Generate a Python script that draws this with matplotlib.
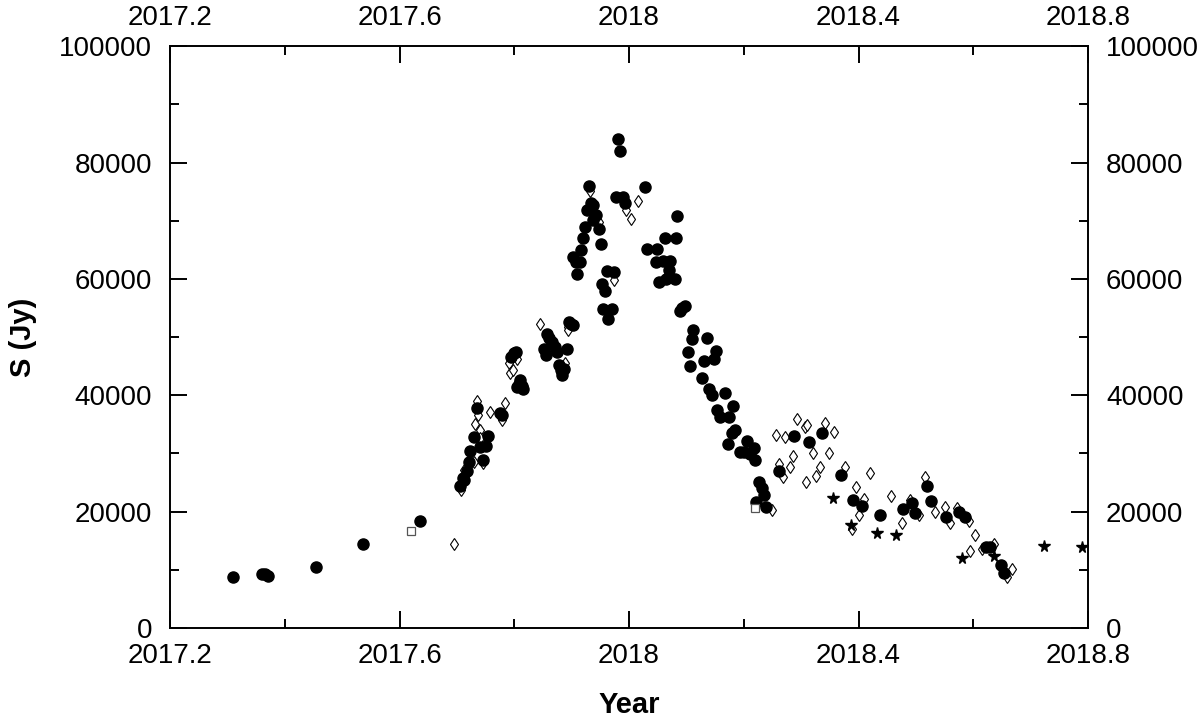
import numpy as np
import matplotlib
matplotlib.use('Agg')
import matplotlib.pyplot as plt
from matplotlib.ticker import MultipleLocator

plt.rcParams['font.family'] = ['Liberation Sans', 'DejaVu Sans']

# filled circles
circ_x = [2017.310, 2017.360, 2017.365, 2017.370, 2017.454, 2017.537, 2017.636,
          2017.705, 2017.710, 2017.712, 2017.718, 2017.721, 2017.723, 2017.730,
          2017.735, 2017.741, 2017.745, 2017.751, 2017.755, 2017.775, 2017.779,
          2017.795, 2017.800, 2017.803, 2017.805, 2017.809, 2017.810, 2017.813,
          2017.816, 2017.852, 2017.855, 2017.857, 2017.861, 2017.865, 2017.871,
          2017.874, 2017.878, 2017.881, 2017.884, 2017.887, 2017.892, 2017.896,
          2017.898, 2017.902, 2017.903, 2017.908, 2017.910, 2017.915, 2017.917,
          2017.920, 2017.923, 2017.926, 2017.931, 2017.933, 2017.938, 2017.938,
          2017.942, 2017.948, 2017.951, 2017.952, 2017.955, 2017.958, 2017.961,
          2017.964, 2017.970, 2017.973, 2017.977, 2017.981, 2017.984, 2017.990,
          2017.993, 2018.028, 2018.032, 2018.047, 2018.049, 2018.053, 2018.060,
          2018.063, 2018.065, 2018.069, 2018.071, 2018.080, 2018.082, 2018.084,
          2018.088, 2018.092, 2018.098, 2018.103, 2018.106, 2018.109, 2018.112,
          2018.128, 2018.131, 2018.136, 2018.140, 2018.144, 2018.148, 2018.152,
          2018.153, 2018.159, 2018.167, 2018.173, 2018.175, 2018.179, 2018.182,
          2018.185, 2018.193, 2018.200, 2018.205, 2018.211, 2018.217, 2018.220,
          2018.221, 2018.227, 2018.231, 2018.235, 2018.239, 2018.262, 2018.288,
          2018.314, 2018.336, 2018.369, 2018.391, 2018.406, 2018.437, 2018.478,
          2018.493, 2018.498, 2018.519, 2018.526, 2018.553, 2018.575, 2018.586,
          2018.623, 2018.629, 2018.648, 2018.654]
circ_y = [8700, 9300, 9200, 8900, 10400, 14400, 18400,
          24400, 25800, 25400, 27000, 28500, 30400, 32900,
          37800, 31100, 28900, 31200, 33000, 36900, 36600,
          46500, 47200, 47500, 41400, 42000, 42600, 41600,
          41000, 47900, 46900, 50600, 49900, 49200, 48300,
          47500, 45200, 44300, 43500, 44600, 48000, 52600,
          52300, 52000, 63800, 62900, 60900, 62900, 64900,
          67000, 69000, 71900, 76000, 73100, 72700, 70100,
          71000, 68500, 66000, 59100, 54900, 58000, 61400,
          53100, 54900, 61200, 74000, 84000, 82000, 74000,
          73000, 75800, 65100, 62900, 65100, 59500, 63100,
          67000, 60000, 61600, 63100, 60000, 67000, 70800,
          54500, 55000, 55300, 47400, 45000, 49700, 51200,
          42900, 45900, 49900, 41000, 40000, 46200, 47600,
          37500, 36200, 40400, 31700, 36300, 33600, 38100,
          34000, 30300, 30300, 32100, 29900, 30900, 28800,
          21700, 25100, 24000, 22900, 20800, 27000, 33000,
          31900, 33500, 26300, 22000, 21000, 19400, 20400,
          21400, 19800, 24400, 21800, 19000, 20000, 19000,
          13900, 13900, 10800, 9400]

# open diamonds
diam_x = [2017.695, 2017.707, 2017.712, 2017.729, 2017.732, 2017.735, 2017.737,
          2017.740, 2017.741, 2017.745, 2017.758, 2017.778, 2017.784, 2017.790,
          2017.793, 2017.797, 2017.805, 2017.845, 2017.888, 2017.894, 2017.894,
          2017.932, 2017.947, 2017.973, 2017.995, 2018.003, 2018.016, 2018.249,
          2018.256, 2018.262, 2018.268, 2018.272, 2018.281, 2018.286, 2018.292,
          2018.307, 2018.308, 2018.311, 2018.320, 2018.326, 2018.333, 2018.342,
          2018.349, 2018.358, 2018.377, 2018.388, 2018.396, 2018.401, 2018.410,
          2018.420, 2018.456, 2018.475, 2018.489, 2018.505, 2018.516, 2018.533,
          2018.550, 2018.559, 2018.571, 2018.593, 2018.595, 2018.603, 2018.616,
          2018.636, 2018.658, 2018.667]
diam_y = [14400, 23800, 27100, 28600, 35000, 39100, 36600,
          34100, 32600, 28400, 37100, 35700, 38600, 45500,
          43800, 44300, 46200, 52200, 45500, 51700, 51200,
          75100, 69800, 59800, 71900, 70300, 73400, 20200,
          33100, 28200, 26000, 32900, 27700, 29600, 36000,
          34600, 25100, 34900, 30100, 26100, 27700, 35300,
          30000, 33700, 27700, 17100, 24200, 19500, 22100,
          26600, 22700, 18100, 22000, 19500, 26000, 19900,
          20800, 18100, 20700, 18400, 13300, 16000, 13500,
          14400, 8700, 10100]

# open squares
sq_x = [2017.620, 2018.220]
sq_y = [16700, 20600]

# stars
star_x = [2018.356, 2018.386, 2018.432, 2018.465, 2018.580, 2018.636, 2018.723, 2018.789]
star_y = [22300, 17700, 16300, 16000, 12000, 12300, 14100, 13900]

xticks = [2017.2, 2017.6, 2018.0, 2018.4, 2018.8]
xtick_labels = ['2017.2', '2017.6', '2018', '2018.4', '2018.8']
yticks = [0, 20000, 40000, 60000, 80000, 100000]

fig = plt.figure(figsize=(12, 7.2), dpi=100)
ax = fig.add_axes([0.1417, 0.1278, 0.765, 0.808])

ax.plot(diam_x, diam_y, 'd', ms=6.5, mfc='white', mec='black', mew=0.8, ls='none')
ax.plot(circ_x, circ_y, 'o', ms=8, color='black', ls='none')
ax.plot(sq_x, sq_y, 's', ms=5.5, mfc='white', mec='#555555', mew=0.9, ls='none')
ax.plot(star_x, star_y, '*', ms=8.5, color='black', ls='none')

ax.set_xlim(2017.2, 2018.8)
ax.set_ylim(0, 100000)
ax.set_xticks(xticks)
ax.set_xticklabels(xtick_labels)
ax.set_yticks(yticks)
ax.xaxis.set_minor_locator(MultipleLocator(0.2))
ax.yaxis.set_minor_locator(MultipleLocator(10000))

ax.tick_params(which='both', direction='in', top=True, right=True,
               labeltop=True, labelright=True, labelsize=20, width=1.4)
ax.tick_params(which='major', length=12, pad=11)
ax.tick_params(axis='y', which='major', pad=13)
ax.tick_params(which='minor', length=6.5)
for s in ax.spines.values():
    s.set_linewidth(1.4)

ax.set_xlabel('Year', fontsize=21, fontweight='bold', labelpad=16)
ax.set_ylabel('S (Jy)', fontsize=21, fontweight='bold', labelpad=16)

fig.savefig('out.png', dpi=100)
